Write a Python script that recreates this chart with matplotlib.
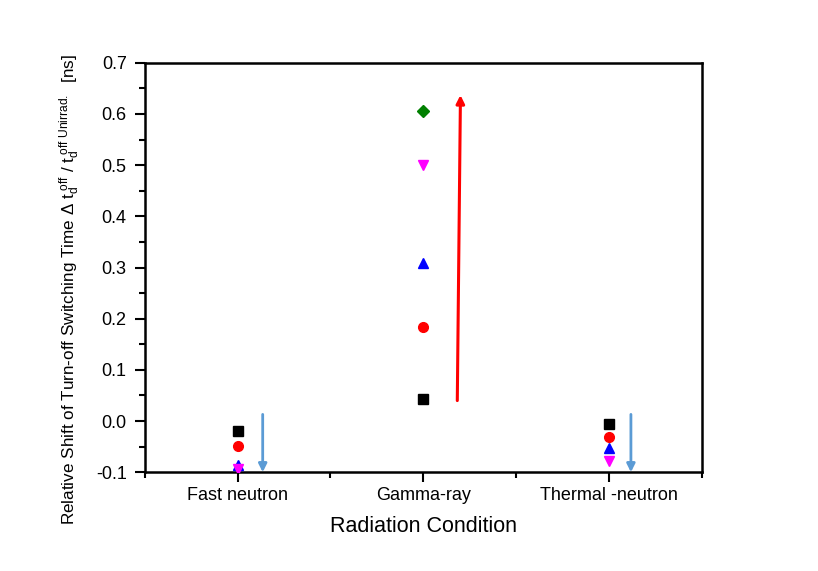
import numpy as np
import matplotlib.pyplot as plt
from matplotlib.ticker import MultipleLocator

plt.rcParams['font.family'] = ['Liberation Sans', 'DejaVu Sans']
plt.rcParams['mathtext.fontset'] = 'custom'
plt.rcParams['mathtext.rm'] = 'Liberation Sans'
plt.rcParams['mathtext.it'] = 'Liberation Sans'

# radiation conditions on the x axis
conditions = ['Fast neutron', 'Gamma-ray', 'Thermal -neutron']
xpos = [1, 2, 3]

# relative shift for each device (one series per marker)
black_sq = [-0.020, 0.044, -0.006]
red_circ = [-0.048, 0.183, -0.032]
blue_tri = [-0.086, 0.309, -0.053]
mag_tri = [-0.093, 0.500, -0.078]
green_dia_x = [2]
green_dia = [0.605]

# trend arrows (x_start, y_start, x_end, y_end)
arrows_down = [(1.135, 0.013, 1.135, -0.100), (3.118, 0.013, 3.118, -0.100)]
arrow_up = (2.183, 0.040, 2.200, 0.637)

fig = plt.figure(figsize=(8.18, 5.71), dpi=100)
ax = fig.add_axes([0.177, 0.173, 0.681, 0.717])

ax.plot(xpos, black_sq, 's', color='black', markersize=6.5, zorder=3)
ax.plot(xpos, red_circ, 'o', color='red', markersize=7, zorder=3)
ax.plot(xpos, blue_tri, '^', color='blue', markersize=7.5, zorder=3)
ax.plot(xpos, mag_tri, 'v', color='magenta', markersize=7.5, zorder=3)
ax.plot(green_dia_x, green_dia, 'D', color='green', markersize=6, zorder=3)

for x0, y0, x1, y1 in arrows_down:
    ax.annotate('', xy=(x1, y1), xytext=(x0, y0),
                arrowprops=dict(arrowstyle='-|>', color='#5B9BD5', lw=2,
                                mutation_scale=12, shrinkA=0, shrinkB=0))
ax.annotate('', xy=arrow_up[2:], xytext=arrow_up[:2],
            arrowprops=dict(arrowstyle='-|>', color='red', lw=2.2,
                            mutation_scale=12, shrinkA=0, shrinkB=0))

ax.set_xlim(0.5, 3.5)
ax.set_ylim(-0.1, 0.7)
ax.set_xticks(xpos)
ax.set_xticklabels(conditions)
ax.xaxis.set_minor_locator(MultipleLocator(0.5))
ax.yaxis.set_major_locator(MultipleLocator(0.1))
ax.yaxis.set_minor_locator(MultipleLocator(0.05))
ax.yaxis.set_major_formatter(plt.FormatStrFormatter('%.1f'))

ax.tick_params(which='both', direction='out', top=False, right=False,
               labelsize=13, width=1.5)
ax.tick_params(axis='y', pad=6)
ax.tick_params(axis='x', pad=4)
ax.tick_params(which='major', length=7)
ax.tick_params(which='minor', length=4)
for s in ax.spines.values():
    s.set_linewidth(1.8)

ax.set_xlabel('Radiation Condition', fontsize=15.5, labelpad=8)
ax.set_ylabel(r'Relative Shift of Turn-off Switching Time $\Delta\ \mathregular{t_d^{\ off}}$ / '
              r'$\mathregular{t_d^{\ off\ Unirrad.}}$  [ns]', fontsize=12.3)
ax.yaxis.set_label_coords(-0.112, 0.445)

fig.savefig('out.png', dpi=100)
